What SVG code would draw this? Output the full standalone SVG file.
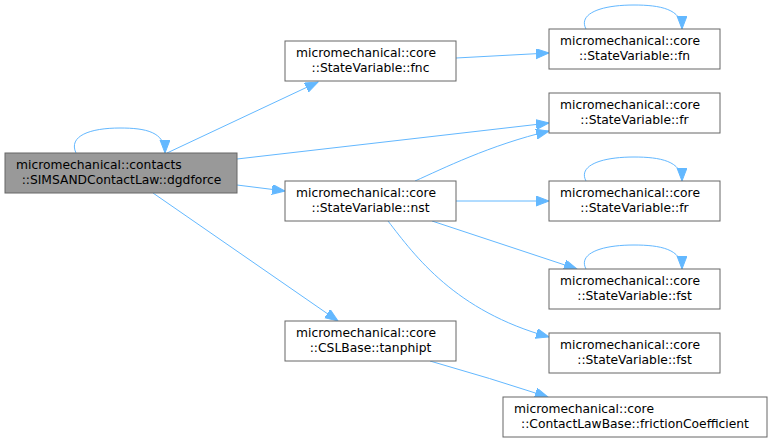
<svg xmlns="http://www.w3.org/2000/svg" width="772" height="443" viewBox="0 0 772 443">
<style>
.n rect{fill:#ffffff;stroke:#666666;stroke-width:1}
.n.main rect{fill:#999999}
.n text{font-family:"DejaVu Sans","Liberation Sans",sans-serif;font-size:12.3px;fill:#000000}
.n text.l2{text-anchor:middle}
.e path{fill:none;stroke:#63b8ff;stroke-width:1;marker-end:url(#ah)}
</style>
<defs>
<marker id="ah" markerUnits="userSpaceOnUse" markerWidth="14" markerHeight="12" refX="13" refY="5" orient="auto">
<path d="M0,0 L13,5 L0,10 z" fill="#63b8ff" stroke="#63b8ff" stroke-width="1"/>
</marker>
</defs>
<rect width="772" height="443" fill="#ffffff"/>
<g id="edges" class="e">
<path d="M76,153 C68,136 90,128 120,128 C146,128 165,132 165,153"/>
<path d="M167,153 L318,82"/>
<path d="M237,159 L549,123"/>
<path d="M237,185 L285,191"/>
<path d="M153,193 L338,321"/>
<path d="M456,58 L549,53"/>
<path d="M586,29 C578,14 600,5 634,5 C660,5 682,9 682,29"/>
<path d="M415,181 C442,169 490,145 549,131"/>
<path d="M456,201 L549,201"/>
<path d="M586,181 C578,166 600,157 634,157 C660,157 682,161 682,181"/>
<path d="M432,221 L577,269"/>
<path d="M586,269 C578,254 600,245 634,245 C660,245 682,249 682,269"/>
<path d="M388,221 C415,256 455,311 549,337"/>
<path d="M430,361 Q490,378 548,397"/>
</g>
<g id="node-main" class="n main">
<rect x="5" y="153" width="232" height="40"/>
<text x="16" y="168.5">micromechanical::contacts</text>
<text class="l2" x="121.5" y="183.5">::SIMSANDContactLaw::dgdforce</text>
</g>
<g id="node-fnc" class="n">
<rect x="285" y="41" width="171" height="40"/>
<text x="296" y="56.5">micromechanical::core</text>
<text class="l2" x="370.5" y="71.5">::StateVariable::fnc</text>
</g>
<g id="node-fn" class="n">
<rect x="549" y="29" width="171" height="40"/>
<text x="560" y="44.5">micromechanical::core</text>
<text class="l2" x="634.5" y="59.5">::StateVariable::fn</text>
</g>
<g id="node-fr1" class="n">
<rect x="549" y="93" width="171" height="40"/>
<text x="560" y="108.5">micromechanical::core</text>
<text class="l2" x="634.5" y="123.5">::StateVariable::fr</text>
</g>
<g id="node-nst" class="n">
<rect x="285" y="181" width="171" height="40"/>
<text x="296" y="196.5">micromechanical::core</text>
<text class="l2" x="370.5" y="211.5">::StateVariable::nst</text>
</g>
<g id="node-fr2" class="n">
<rect x="549" y="181" width="171" height="40"/>
<text x="560" y="196.5">micromechanical::core</text>
<text class="l2" x="634.5" y="211.5">::StateVariable::fr</text>
</g>
<g id="node-fst1" class="n">
<rect x="549" y="269" width="171" height="40"/>
<text x="560" y="284.5">micromechanical::core</text>
<text class="l2" x="634.5" y="299.5">::StateVariable::fst</text>
</g>
<g id="node-fst2" class="n">
<rect x="549" y="333" width="171" height="40"/>
<text x="560" y="348.5">micromechanical::core</text>
<text class="l2" x="634.5" y="363.5">::StateVariable::fst</text>
</g>
<g id="node-tanphipt" class="n">
<rect x="285" y="321" width="171" height="40"/>
<text x="296" y="336.5">micromechanical::core</text>
<text class="l2" x="370.5" y="351.5">::CSLBase::tanphipt</text>
</g>
<g id="node-friction" class="n">
<rect x="503" y="397" width="264" height="40"/>
<text x="514" y="412.5">micromechanical::core</text>
<text class="l2" x="635" y="427.5">::ContactLawBase::frictionCoefficient</text>
</g>
</svg>
